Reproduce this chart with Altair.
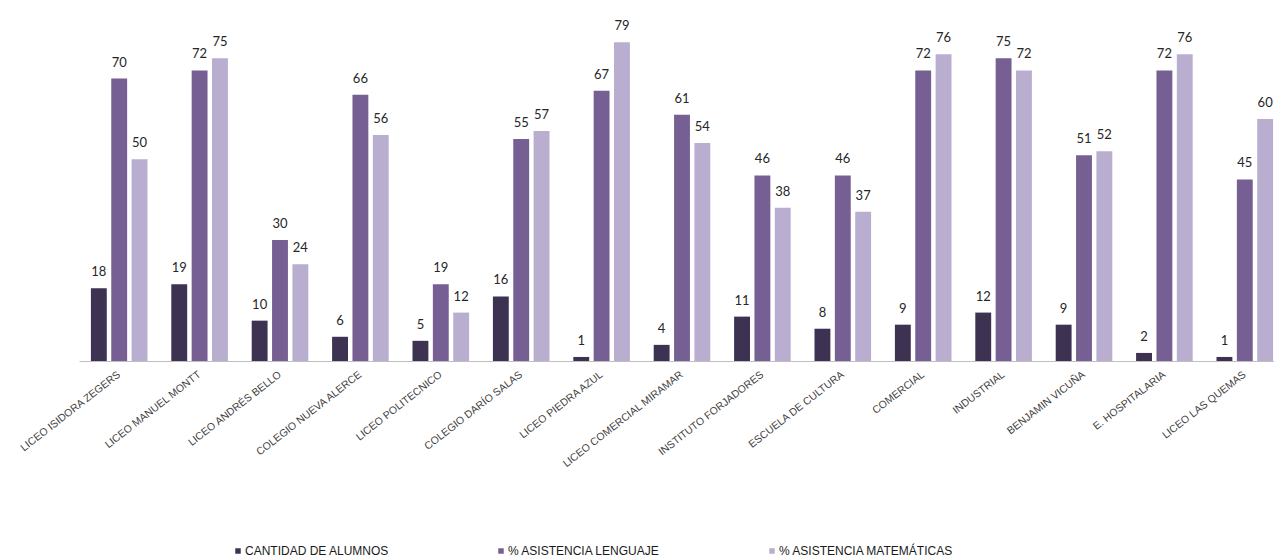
import altair as alt
import pandas as pd

escuelas = [
    "LICEO ISIDORA ZEGERS", "LICEO MANUEL MONTT", "LICEO ANDRÉS BELLO",
    "COLEGIO NUEVA ALERCE", "LICEO POLITECNICO", "COLEGIO DARÍO SALAS",
    "LICEO PIEDRA AZUL", "LICEO COMERCIAL MIRAMAR", "INSTITUTO FORJADORES",
    "ESCUELA DE CULTURA", "COMERCIAL", "INDUSTRIAL", "BENJAMIN VICUÑA",
    "E. HOSPITALARIA", "LICEO LAS QUEMAS",
]
series = ["CANTIDAD DE ALUMNOS", "% ASISTENCIA LENGUAJE", "% ASISTENCIA MATEMÁTICAS"]
alumnos = [18, 19, 10, 6, 5, 16, 1, 4, 11, 8, 9, 12, 9, 2, 1]
lenguaje = [70, 72, 30, 66, 19, 55, 67, 61, 46, 46, 72, 75, 51, 72, 45]
matematicas = [50, 75, 24, 56, 12, 57, 79, 54, 38, 37, 76, 72, 52, 76, 60]
colores = ["#3d3252", "#765f92", "#b9add0"]

rows = []
for i, e in enumerate(escuelas):
    for s, vals in zip(series, [alumnos, lenguaje, matematicas]):
        rows.append({"escuela": e, "serie": s, "valor": vals[i]})
df = pd.DataFrame(rows)

base = alt.Chart(df).encode(
    x=alt.X(
        "escuela:N",
        sort=escuelas,
        title=None,
        scale=alt.Scale(paddingInner=0.296, paddingOuter=0.148, range=[0, 1206]),
        axis=alt.Axis(
            labelAngle=-38,
            labelAlign="right",
            labelBaseline="middle",
            labelPadding=12,
            labelFont="Liberation Sans Narrow, Liberation Sans",
            labelFontSize=10.5,
            labelColor="#404040",
            labelLimit=300,
            ticks=False,
            domainColor="#bfbfbf",
            domainWidth=1,
            grid=False,
        ),
    ),
    xOffset=alt.XOffset("serie:N", sort=series, scale=alt.Scale(paddingInner=0.22, paddingOuter=0)),
    y=alt.Y("valor:Q", scale=alt.Scale(domain=[0, 85]), axis=None),
)

bars = base.mark_bar().encode(
    color=alt.Color(
        "serie:N",
        sort=series,
        scale=alt.Scale(domain=series, range=colores),
        legend=alt.Legend(
            title=None,
            orient="none",
            direction="horizontal",
            legendX=153,
            legendY=527,
            symbolType="square",
            symbolSize=30,
            symbolStrokeWidth=0,
            labelFont="Liberation Sans",
            labelFontSize=12,
            labelColor="#1a1a1a",
            labelOffset=1,
            columnPadding=105,
            labelLimit=400,
        ),
    )
)

labels = base.mark_text(
    baseline="alphabetic", dy=-12, font="Lato", fontSize=13, color="#262626"
).encode(text=alt.Text("valor:Q"))

chart = (
    alt.layer(bars, labels)
    .properties(
        width=1195,
        height=343,
        background="white",
        padding={"left": 71, "top": 10, "right": 0, "bottom": 200},
        autosize=alt.AutoSizeParams(type="none"),
    )
    .configure_view(strokeWidth=0, stroke="transparent")
)

chart.save("out.html", embed_options={"renderer": "svg", "actions": False})
